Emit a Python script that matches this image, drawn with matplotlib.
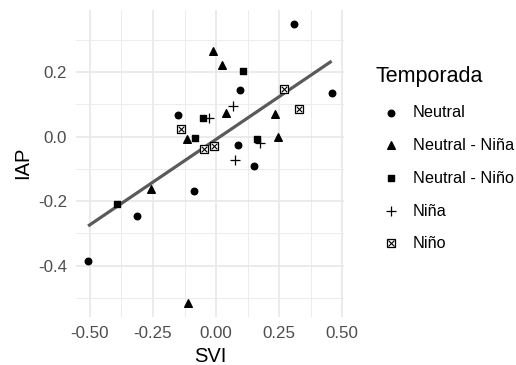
import matplotlib.pyplot as plt
import numpy as np
from matplotlib.lines import Line2D

plt.rcParams['font.family'] = ['Liberation Sans', 'DejaVu Sans']

# SVI / IAP values per season type
neutral_svi = [0.309, 0.458, 0.095, -0.151, 0.088, 0.151, -0.087, -0.313, -0.507]
neutral_iap = [0.349, 0.136, 0.145, 0.066, -0.026, -0.090, -0.169, -0.247, -0.385]

nina_neutral_svi = [-0.012, 0.025, 0.039, 0.233, 0.246, -0.116, -0.257, -0.112]
nina_neutral_iap = [0.267, 0.223, 0.073, 0.070, 0.000, -0.008, -0.163, -0.516]

nino_neutral_svi = [0.107, -0.053, -0.082, 0.164, -0.394]
nino_neutral_iap = [0.203, 0.057, -0.004, -0.007, -0.210]

nina_svi = [0.066, -0.029, 0.176, 0.076]
nina_iap = [0.095, 0.057, -0.019, -0.072]

nino_svi = [0.270, 0.329, -0.137, -0.049, -0.010]
nino_iap = [0.147, 0.086, 0.023, -0.037, -0.028]

fig = plt.figure(figsize=(5.16, 3.65), dpi=100)
ax = fig.add_axes([76 / 516, 1 - 316.5 / 365, 268 / 516, 306.5 / 365])

# linear fit over all points (like geom_smooth(method = "lm"))
all_x = np.array(neutral_svi + nina_neutral_svi + nino_neutral_svi + nina_svi + nino_svi)
all_y = np.array(neutral_iap + nina_neutral_iap + nino_neutral_iap + nina_iap + nino_iap)
slope, icpt = np.polyfit(all_x, all_y, 1)
xs = np.array([all_x.min(), all_x.max()])
ax.plot(xs, slope * xs + icpt, color='#5a5a5a', lw=2.3, zorder=2, solid_capstyle='butt')

ax.scatter(neutral_svi, neutral_iap, marker='o', s=22, color='black', label='Neutral', zorder=3)
ax.scatter(nina_neutral_svi, nina_neutral_iap, marker='^', s=30, color='black', label='Neutral - Niña', zorder=3)
ax.scatter(nino_neutral_svi, nino_neutral_iap, marker='s', s=22, color='black', label='Neutral - Niño', zorder=3)
ax.scatter(nina_svi, nina_iap, marker='+', s=60, color='black', linewidths=0.9, label='Niña', zorder=3)
ax.scatter(nino_svi, nino_iap, marker='s', s=30, facecolor='white', edgecolor='black', linewidths=0.9, zorder=3)
ax.scatter(nino_svi, nino_iap, marker='x', s=16, color='black', linewidths=0.8, zorder=4)

# legend proxy for the boxed cross
h, l = ax.get_legend_handles_labels()
box = (Line2D([], [], marker='s', ms=6, mfc='white', mec='black', mew=0.9, ls=''),
       Line2D([], [], marker='x', ms=4, color='black', mew=0.8, ls=''))
h.append(box)
l.append('Niño')

ax.set_xlim(-0.555, 0.507)
ax.set_ylim(-0.558, 0.393)
ax.set_xticks([-0.5, -0.25, 0, 0.25, 0.5])
ax.set_xticklabels(['-0.50', '-0.25', '0.00', '0.25', '0.50'])
ax.set_yticks([-0.4, -0.2, 0.0, 0.2])
ax.set_yticklabels(['-0.4', '-0.2', '0.0', '0.2'])
ax.set_xticks([-0.375, -0.125, 0.125, 0.375], minor=True)
ax.set_yticks([-0.5, -0.3, -0.1, 0.1, 0.3], minor=True)
ax.grid(which='major', color='#e8e8e8', lw=1.2)
ax.grid(which='minor', color='#ececec', lw=0.7)
ax.set_axisbelow(True)
for s in ax.spines.values():
    s.set_visible(False)
ax.tick_params(which='both', length=0, labelsize=12.2, labelcolor='#4d4d4d', pad=6.5)
ax.set_xlabel('SVI', fontsize=14.5, labelpad=5)
ax.set_ylabel('IAP', fontsize=14.5, labelpad=4)

leg = fig.legend(h, l, title='Temporada', loc='upper left', bbox_to_anchor=(376 / 516, 1 - 66 / 365),
                 frameon=False, fontsize=11.7, title_fontsize=15.5, alignment='left',
                 handlelength=1.9, handletextpad=0.35, labelspacing=1.1, borderaxespad=0,
                 borderpad=0)

fig.savefig('out.png', dpi=100)
